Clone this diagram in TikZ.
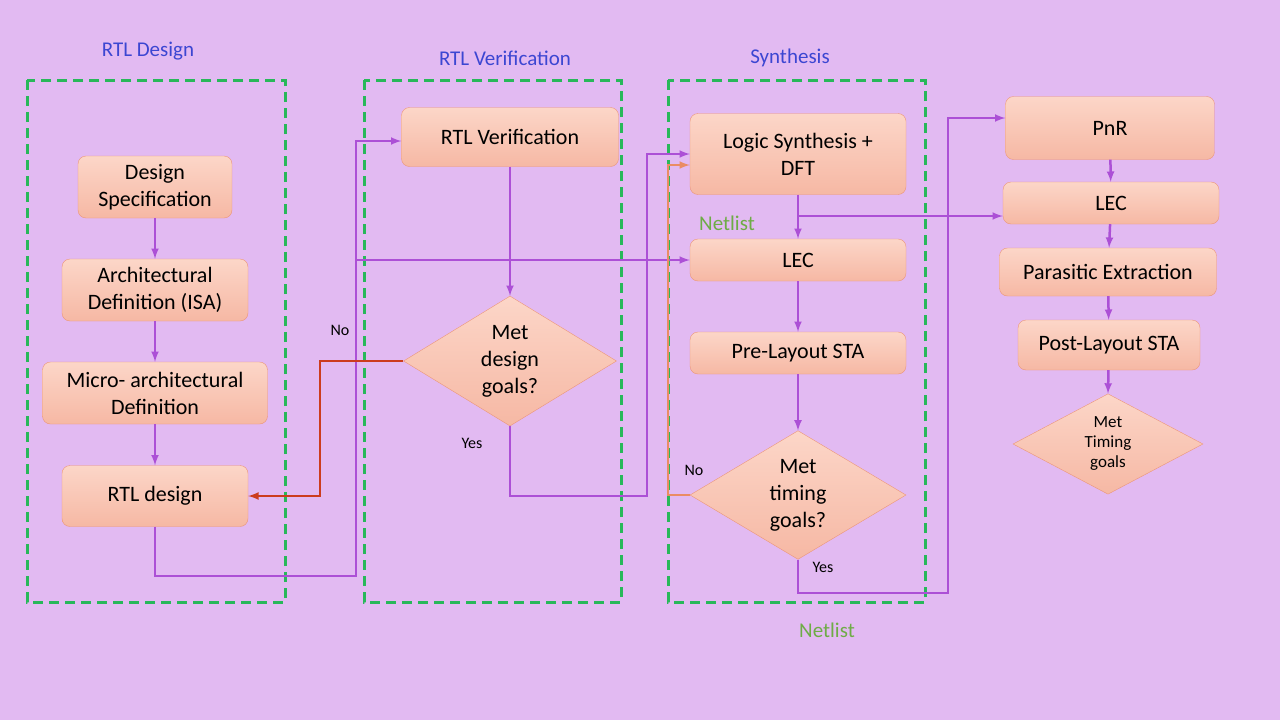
\documentclass[tikz,border=0pt]{standalone}
\usepackage{fontspec}
\setmainfont{Carlito}
\usetikzlibrary{shapes.geometric,arrows}
\definecolor{bgvio}{RGB}{226,186,242}
\definecolor{boxtop}{RGB}{252,214,200}
\definecolor{boxbot}{RGB}{246,184,164}
\definecolor{boxline}{RGB}{236,150,120}
\definecolor{dashgreen}{RGB}{40,184,90}
\definecolor{flowvio}{RGB}{172,80,214}
\definecolor{backred}{RGB}{204,60,30}
\definecolor{backorange}{RGB}{234,140,100}
\definecolor{titleblue}{RGB}{60,70,210}
\definecolor{netgreen}{RGB}{110,172,70}
\tikzset{
  stepbox/.style={rectangle,rounded corners=8pt,draw=boxline,top color=boxtop,bottom color=boxbot,align=center,font=\fontsize{22}{27}\selectfont,inner sep=0pt},
  check/.style={diamond,draw=boxline,top color=boxtop,bottom color=boxbot,align=center,font=\fontsize{22}{27}\selectfont,inner sep=0pt},
  stage/.style={draw=dashgreen,line width=3pt,dash pattern=on 10pt off 6pt},
  flow/.style={->,>=latex,draw=flowvio,line width=2.5pt},
  title/.style={text=titleblue,font=\fontsize{21}{25}\selectfont},
  lbl/.style={font=\fontsize{16}{19}\selectfont}
}
\begin{document}
\begin{tikzpicture}[x=1pt,y=-1pt]
\fill[bgvio] (0,0) rectangle (1280,720);
\useasboundingbox (0,0) rectangle (1280,720);
% Stages
\draw[stage] (27,80) rectangle (285,602);
\draw[stage] (364,80) rectangle (621,602);
\draw[stage] (668,80) rectangle (925,602);
\node[title] (t1) at (148,51) {RTL Design};
\node[title] (t2) at (505,58) {RTL Verification};
\node[title] (t3) at (790,58) {Synthesis};
% RTL design
\node[stepbox,minimum width=154pt,minimum height=62pt] (spec) at (155,187) {Design\\Specification};
\node[stepbox,minimum width=186pt,minimum height=62pt] (arch) at (155,290) {Architectural\\Definition (ISA)};
\node[stepbox,minimum width=225pt,minimum height=62pt] (micro) at (155,393) {Micro- architectural\\Definition};
\node[stepbox,minimum width=186pt,minimum height=61pt] (rtl) at (155,496) {RTL design};
% RTL verification
\node[stepbox,minimum width=217pt,minimum height=59pt] (verif) at (510,137) {RTL Verification};
\node[check,minimum width=213pt,minimum height=126pt] (goals) at (510,361) {Met\\design\\goals?};
% Synthesis
\node[stepbox,minimum width=216pt,minimum height=81pt] (synth) at (798,154) {Logic Synthesis +\\DFT};
\node[stepbox,minimum width=216pt,minimum height=42pt] (lec) at (798,260) {LEC};
\node[stepbox,minimum width=216pt,minimum height=42pt] (presta) at (798,353) {Pre-Layout STA};
\node[check,minimum width=216pt,minimum height=124pt] (timing) at (798,495) {Met\\timing\\goals?};
\node[text=netgreen,font=\fontsize{21}{25}\selectfont] (net1) at (727,223) {Netlist};
\node[text=netgreen,font=\fontsize{21}{25}\selectfont] (net2) at (827,630) {Netlist};
% Physical design
\node[stepbox,minimum width=209pt,minimum height=63pt] (pnr) at (1110,128) {PnR};
\node[stepbox,minimum width=216pt,minimum height=42pt] (lec2) at (1111,203) {LEC};
\node[stepbox,minimum width=217pt,minimum height=48pt] (pex) at (1108,272) {Parasitic Extraction};
\node[stepbox,minimum width=182pt,minimum height=50pt] (poststa) at (1109,345) {Post-Layout STA};
\node[check,minimum width=190pt,minimum height=84pt,font=\fontsize{17}{20}\selectfont] (timing2) at (1108,444) {Met\\Timing\\goals};
% Labels
\node[lbl] (no1) at (340,330) {No};
\node[lbl] (yes1) at (472,443) {Yes};
\node[lbl] (no2) at (694,470) {No};
\node[lbl] (yes2) at (823,567) {Yes};
% Corners
\coordinate (c1) at (155,576);
\coordinate (c2) at (356,576);
\coordinate (c3) at (356,260);
\coordinate (c4) at (320,361);
\coordinate (c5) at (510,496);
\coordinate (c6) at (647,496);
\coordinate (c7) at (668,495);
\coordinate (c8) at (798,593);
\coordinate (c9) at (948,593);
\coordinate (c10) at (798,216);
% Arrows
\draw[flow] (spec) -- (arch);
\draw[flow] (arch) -- (micro);
\draw[flow] (micro) -- (rtl);
\draw[flow] (rtl.south) -- (c1) -- (c2) |- (verif.west |- 0,141);
\draw[flow] (c3) -- (lec.west);
\draw[flow] (verif) -- (goals.north);
\draw[->,>=latex,draw=backred,line width=2.5pt] (goals.west) -- (c4) |- (rtl.east);
\draw[flow] (goals.south) -- (c5) -- (c6) |- (synth.west);
\draw[flow] (synth) -- (lec);
\draw[flow] (c10) -- (lec2.west |- c10);
\draw[flow] (lec) -- (presta);
\draw[flow] (presta) -- (timing.north);
\draw[->,>=latex,draw=backorange,line width=2.5pt] (timing.west) -- (c7) |- (synth.west |- 0,165);
\draw[flow] (timing.south) -- (c8) -- (c9) |- (pnr.west |- 0,118);
\draw[flow] (pnr) -- (lec2);
\draw[flow] (lec2) -- (pex);
\draw[flow] (pex) -- (poststa);
\draw[flow] (poststa) -- (timing2.north);
\end{tikzpicture}
\end{document}
